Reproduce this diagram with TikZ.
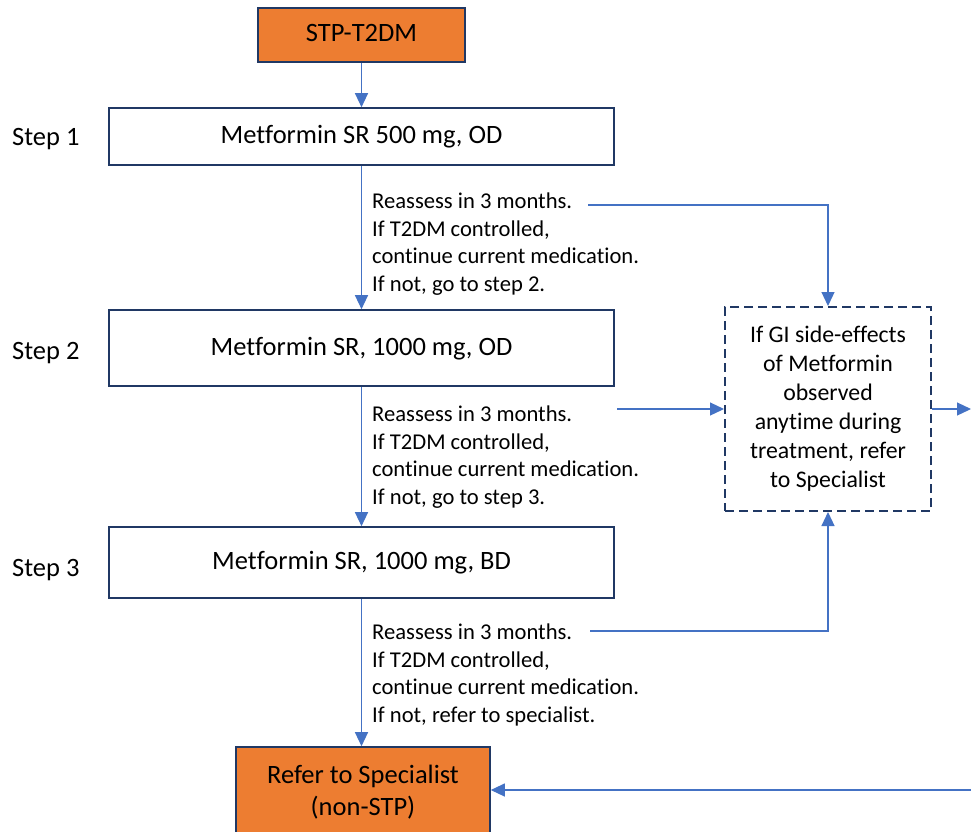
\documentclass[tikz,border=0pt]{standalone}
\usepackage{fontspec}
\setmainfont{Carlito}[Ligatures=NoCommon]
\usetikzlibrary{arrows.meta}
\definecolor{navy}{HTML}{203864}
\definecolor{orng}{HTML}{ED7D31}
\definecolor{arrowblue}{HTML}{4472C4}
\tikzset{
  medbox/.style={draw=navy, line width=1.6pt, fill=white, minimum width=505pt, inner sep=0pt, text depth=4pt, font=\fontsize{26.5}{32}\selectfont},
  orangebox/.style={draw=navy, line width=1.6pt, fill=orng, inner sep=0pt, align=center, font=\fontsize{26.5}{32}\selectfont},
  gibox/.style={draw=navy, line width=2pt, dash pattern=on 9pt off 5pt, minimum width=206pt, minimum height=204pt, inner sep=0pt, align=center, font=\fontsize{23.8}{29}\selectfont},
  flow/.style={draw=arrowblue, line width=1.2pt, -{Triangle[length=14pt,width=13pt]}},
  note/.style={align=left, anchor=west, inner sep=0pt, font=\fontsize{22.6}{27.5}\selectfont},
  steplabel/.style={anchor=west, inner sep=0pt, font=\fontsize{26.5}{32}\selectfont}
}
\begin{document}
\begin{tikzpicture}[x=1pt,y=-1pt]
\path[use as bounding box, clip] (0,0) rectangle (971,831);
\fill[white] (0,0) rectangle (971,831);

\node[orangebox, minimum width=207pt, minimum height=54pt, text depth=4pt] (top) at (361.5,35) {STP-T2DM};
\node[medbox, minimum height=57pt] (s1) at (361.5,136.5) {Metformin SR 500 mg, OD};
\node[medbox, minimum height=76pt] (s2) at (361.5,348) {Metformin SR, 1000 mg, OD};
\node[medbox, minimum height=71pt] (s3) at (361.5,562.5) {Metformin SR, 1000 mg, BD};
\node[orangebox, minimum width=254pt, minimum height=90pt] (spec) at (363,792) {Refer to Specialist\\(non-STP)};

\node[steplabel] (l1) at (12,139) {Step 1};
\node[steplabel] (l2) at (12,353) {Step 2};
\node[steplabel] (l3) at (12,570) {Step 3};

\node[note] (n1) at (372,244) {Reassess in 3 months.\\If T2DM controlled,\\continue current medication.\\If not, go to step 2.};
\node[note] (n2) at (372,457) {Reassess in 3 months.\\If T2DM controlled,\\continue current medication.\\If not, go to step 3.};
\node[note] (n3) at (372,675) {Reassess in 3 months.\\If T2DM controlled,\\continue current medication.\\If not, refer to specialist.};

\node[gibox] (gi) at (828,409) {If GI side-effects\\of Metformin\\observed\\anytime during\\treatment, refer\\to Specialist};

\draw[flow] (top) -- (s1);
\draw[flow] (s1) -- (s2);
\draw[flow] (s2) -- (s3);
\draw[flow] (s3) -- (s3 |- spec.north);

\coordinate (c1) at (588,205);
\coordinate (c2) at (617,409);
\coordinate (c3) at (590,631);
\coordinate (cr) at (971,409);
\coordinate (cb) at (971,790);
\draw[flow] (c1) -| (gi.north);
\draw[flow] (c2) -- (gi.west);
\draw[flow] (c3) -| (gi.south);
\draw[flow] (gi.east) -- (cr);
\draw[flow] (cb) -- (cb -| spec.east);
\end{tikzpicture}
\end{document}
